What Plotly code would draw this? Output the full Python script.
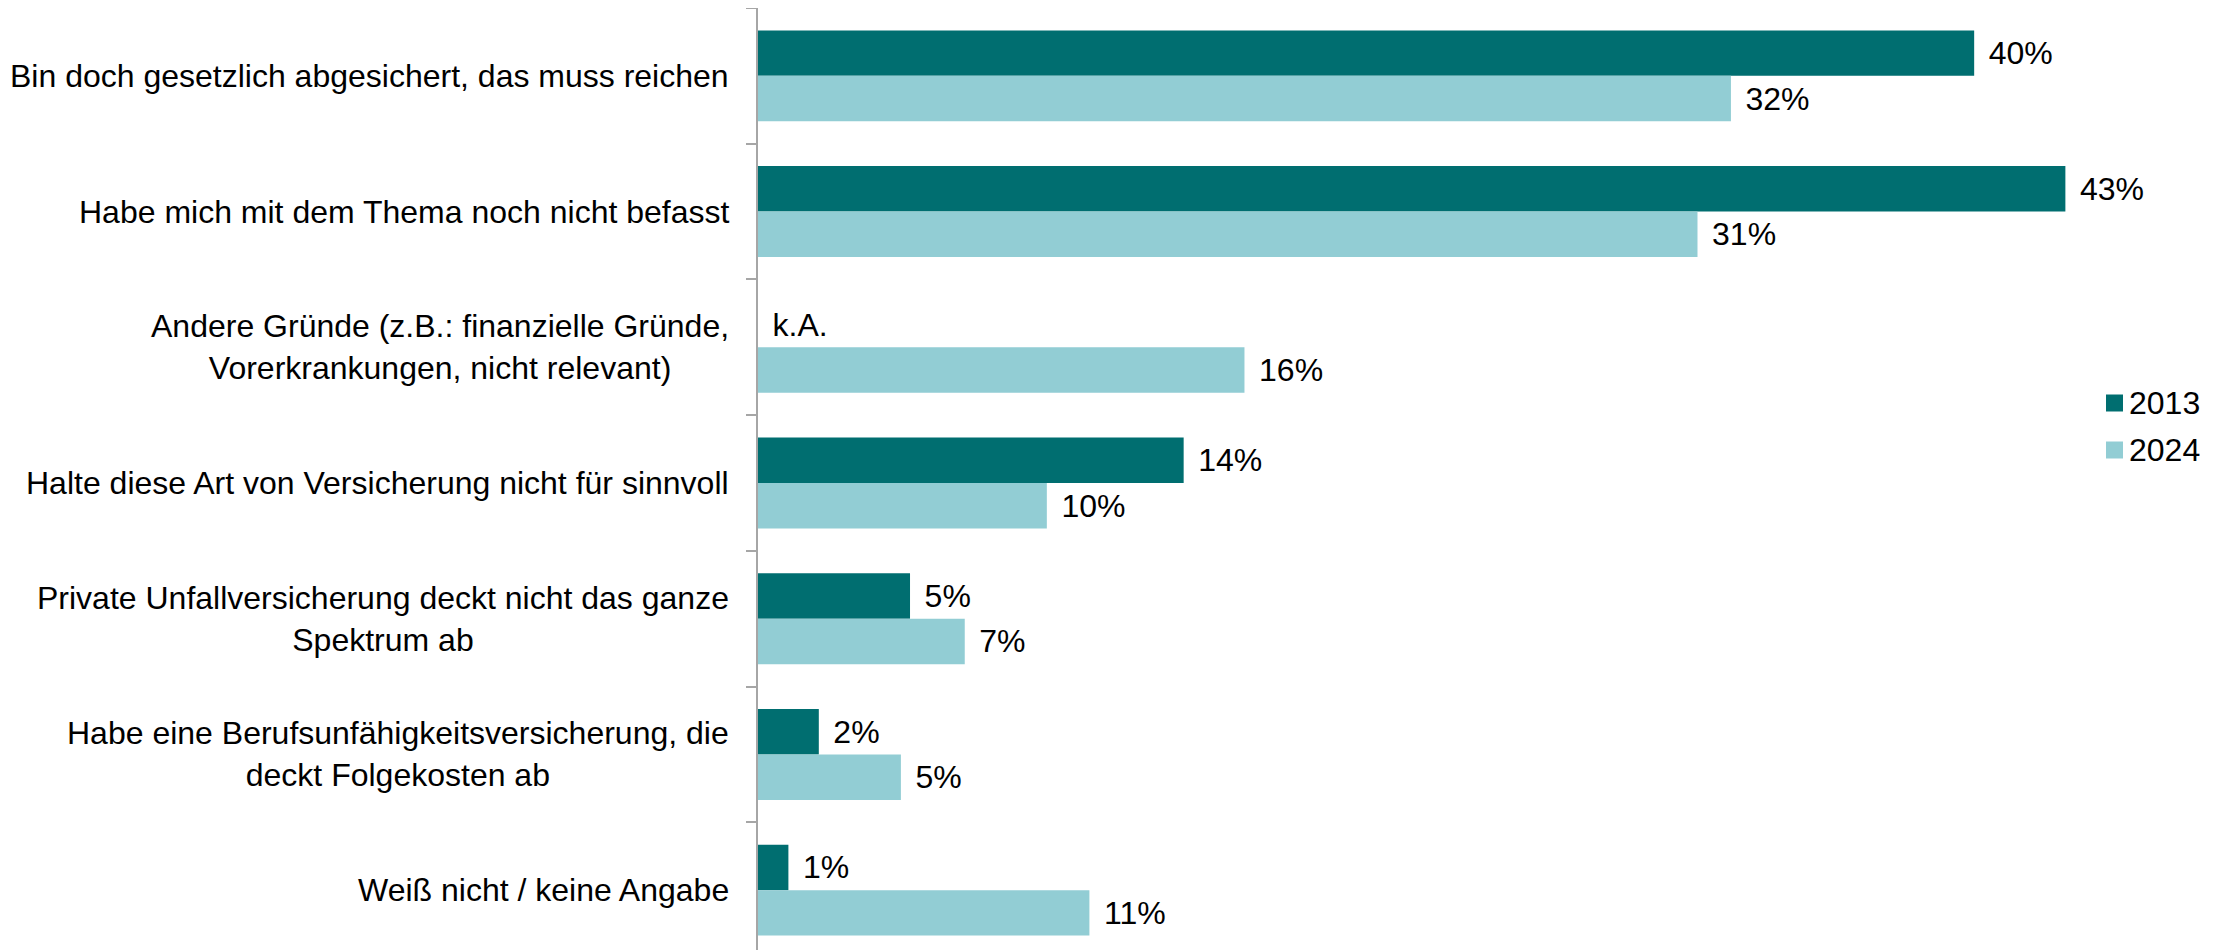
import plotly.graph_objects as go

categories = [
    "Bin doch gesetzlich abgesichert, das muss reichen",
    "Habe mich mit dem Thema noch nicht befasst",
    "Andere Gründe (z.B.: finanzielle Gründe,<br>Vorerkrankungen, nicht relevant)",
    "Halte diese Art von Versicherung nicht für sinnvoll",
    "Private Unfallversicherung deckt nicht das ganze<br>Spektrum ab",
    "Habe eine Berufsunfähigkeitsversicherung, die<br>deckt Folgekosten ab",
    "Weiß nicht / keine Angabe",
]
series_names = ["2013", "2024"]
# bar lengths (percent)
values_2013 = [40, 43, None, 14, 5, 2, 1]
values_2024 = [32, 30.9, 16, 9.5, 6.8, 4.7, 10.9]
# printed data labels
labels_2013 = ["40%", "43%", "k.A.", "14%", "5%", "2%", "1%"]
labels_2024 = ["32%", "31%", "16%", "10%", "7%", "5%", "11%"]

colors = ["#006E70", "#92CDD4"]
FONT = "Liberation Sans, Arial, sans-serif"
FS = 32

W, H = 2216, 950
PAGE_OFF = 8  # default body margin of the html page
ML, MR, MT, MB = 750, 37, 0, 0

fig = go.Figure()
for name, vals, labs, col in zip(series_names, [values_2013, values_2024],
                                 [labels_2013, labels_2024], colors):
    xs = [v if v is not None else 0 for v in vals]
    txt = ["\u00a0\u200a" + l for l in labs]
    fig.add_trace(go.Bar(
        y=categories, x=xs, name=name, orientation="h",
        marker=dict(color=col, line=dict(width=0)),
        text=txt, textposition="outside", constraintext="none",
        textfont=dict(family=FONT, size=FS, color="black"),
        cliponaxis=False, hoverinfo="skip", showlegend=False,
    ))

for c in categories:
    fig.add_annotation(x=0, y=c, xref="x", yref="y", text=c, showarrow=False,
                       xanchor="right", yanchor="middle", align="center",
                       xshift=-27, font=dict(family=FONT, size=FS, color="black"))

# manual legend (paper coordinates converted from screen pixel layout)
pw, ph = W - ML - MR, H - MT - MB
def px_x(p):
    return (p - PAGE_OFF - ML) / pw
def px_y(p):
    return 1 - (p - PAGE_OFF - MT) / ph

leg_centers = [403, 450]
for name, col, cy in zip(series_names, colors, leg_centers):
    fig.add_shape(type="rect", xref="paper", yref="paper",
                  x0=px_x(2106), x1=px_x(2123), y0=px_y(cy + 8.5), y1=px_y(cy - 8.5),
                  fillcolor=col, line=dict(width=0))
    fig.add_annotation(x=px_x(2127), y=px_y(cy), xref="paper", yref="paper",
                       text=name, showarrow=False, xanchor="left", yanchor="middle",
                       font=dict(family=FONT, size=FS, color="black"))

fig.update_layout(
    width=W, height=H,
    margin=dict(l=ML, r=MR, t=MT, b=MB, autoexpand=False),
    paper_bgcolor="white", plot_bgcolor="white",
    barmode="group", bargap=0.33, bargroupgap=0,
    font=dict(family=FONT, size=FS, color="black"),
    showlegend=False,
    xaxis=dict(range=[0, 47], visible=False, showgrid=False, zeroline=False),
    yaxis=dict(autorange="reversed", showticklabels=False, showgrid=False,
               zeroline=False, showline=True, linecolor="#A6A6A6", linewidth=1.5,
               ticks="outside", ticklen=10, tickcolor="#A6A6A6", tickwidth=1.5,
               tickson="boundaries"),
)

fig.write_html("out.html")
